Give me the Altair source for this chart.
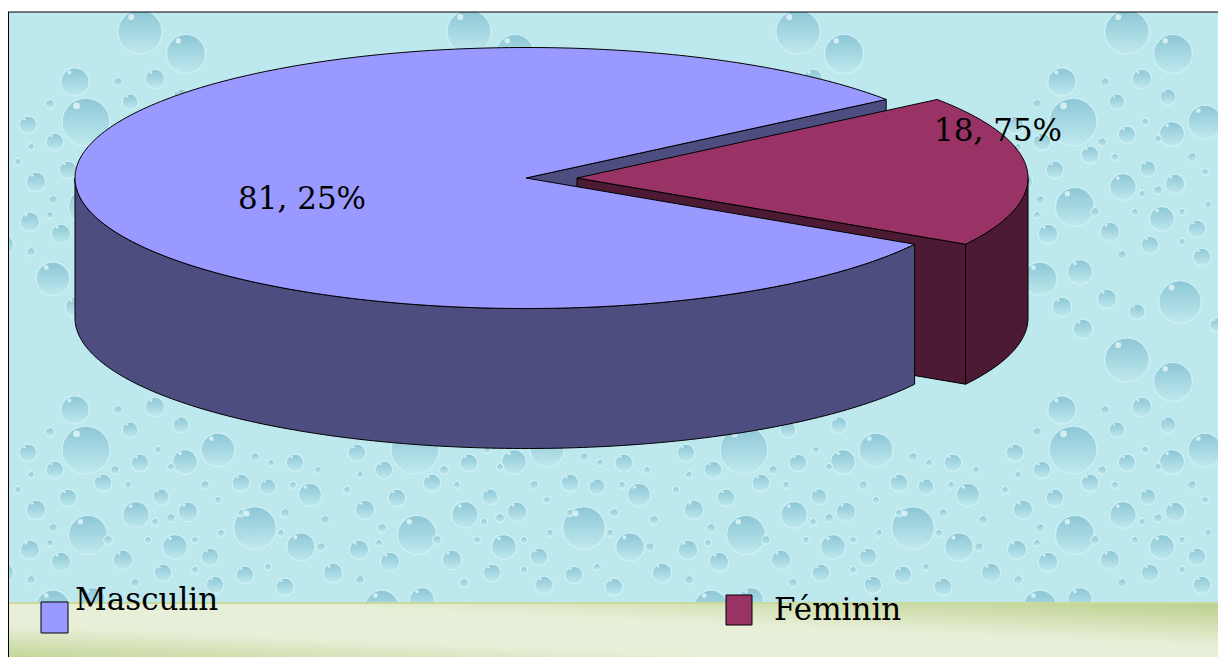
import math
import altair as alt
import pandas as pd

# --- values ---
categories = ["Masculin", "Féminin"]
shares = [81.25, 18.75]
slice_labels = ["81, 25%", "18, 75%"]
top_colors = ["#9999FF", "#993366"]
side_colors = ["#4D4D80", "#4D1A33"]

# droplets of the repeating background texture (x, y, radius)
drop_x = [86, 88, 255, 301, 218, 185, 136, 188, 161, 103, 68, 55, 28, 130, 140, 36, 30, 61, 123, 175, 163, 210,
          241, 268, 295, 310, 245, 285, 4, 181, 215, 75, 155, 140, 186, 53, 75, 120, 150, 193, 96, 230, 93]
drop_y = [450, 535, 528, 547, 450, 462, 515, 512, 497, 483, 498, 470, 453, 430, 463, 510, 550, 562, 560, 547,
          573, 557, 483, 487, 463, 495, 575, 587, 573, 425, 585, 410, 407, 360, 382, 607, 635, 627, 640, 630,
          657, 653, 600]
drop_r = [27, 22, 24, 16, 19, 14, 15, 11, 9, 10, 10, 10, 10, 9, 10, 11, 11, 11, 11, 14, 10, 10, 10, 9, 10, 13, 10,
          10, 11, 9, 10, 16, 11, 25, 22, 19, 11, 11, 9, 24, 11, 8, 14]
tiny_x = [18, 31, 50, 118, 158, 115, 128, 171, 205, 218, 241, 171, 155, 53, 50, 108, 148, 195, 221, 285, 293, 271,
          255, 318, 325, 281, 321, 195, 31, 268, 135]
tiny_y = [490, 475, 432, 410, 450, 470, 485, 467, 485, 500, 513, 518, 522, 528, 543, 540, 540, 540, 533, 513, 485,
          463, 457, 470, 520, 533, 547, 570, 580, 567, 583]
tiny_r = [4, 4, 5, 5, 4, 5, 4, 4, 5, 4, 4, 5, 4, 5, 4, 5, 4, 4, 4, 5, 4, 4, 5, 4, 5, 4, 5, 4, 5, 4, 5]
TILE_W, TILE_H = 329, 328

# --- pie geometry ---
CX, CY, RX, RY, DEPTH, EXPLODE = 526, 178, 451, 130.5, 140, 51
T1 = 37.0
T2 = T1 + 360 * shares[0] / 100


def pt(t, dx=0, dy=0):
    a = math.radians(t)
    return (CX + dx + RX * math.cos(a), CY + dy - RY * math.sin(a))


def arc(a, b, dx=0, dy=0):
    n = max(2, int(abs(b - a)))
    return [pt(a + (b - a) * i / n, dx, dy) for i in range(n + 1)]


SX = alt.Scale(domain=[8, 1218], nice=False, zero=False)
SY = alt.Scale(domain=[657, 8], nice=False, zero=False)
X = alt.X("x:Q", scale=SX, axis=None)
Y = alt.Y("y:Q", scale=SY, axis=None)


def poly(points, color):
    df = pd.DataFrame({"x": [p[0] for p in points], "y": [p[1] for p in points], "i": range(len(points))})
    return alt.Chart(df).mark_line(interpolate="linear-closed", fill=color, stroke="#000000",
                                   strokeWidth=1, clip=True).encode(x=X, y=Y, order="i:Q")


def box(x0, x1, y0, y1, **kw):
    df = pd.DataFrame({"x": [x0], "x2": [x1], "y": [y0], "y2": [y1]})
    return alt.Chart(df).mark_rect(clip=True, **kw).encode(x=X, x2="x2:Q", y=Y, y2="y2:Q")


def words(x, y, t, size=31, **kw):
    df = pd.DataFrame({"x": [x], "y": [y], "t": [t]})
    return alt.Chart(df).mark_text(font="DejaVu Serif", fontSize=size, align="left", baseline="alphabetic",
                                   color="#000000", **kw).encode(x=X, y=Y, text="t:N")


# --- background ---
rows = []
for i in range(-1, 5):
    for j in range(-2, 2):
        for x, y, r in zip(drop_x + tiny_x, drop_y + tiny_y, drop_r + tiny_r):
            rows.append({"x": x + i * TILE_W, "y": y + j * TILE_H, "r": r})
drops = pd.DataFrame(rows)
drops = drops[(drops.x > -30) & (drops.x < 1250) & (drops.y > -30) & (drops.y < 640)]
drops["size"] = math.pi * drops.r ** 2
drops["hx"] = drops.x - 0.35 * drops.r
drops["hy"] = drops.y - 0.6 * drops.r
drops["hsize"] = math.pi * (0.14 * drops.r) ** 2

back = box(8, 1218, 12, 603, color="#BCE8EE")
drop_fill = {"gradient": "linear", "x1": 0, "y1": 0, "x2": 0, "y2": 1,
             "stops": [{"offset": 0, "color": "#8DC6D6"}, {"offset": 1, "color": "#BFE9EE"}]}
drop_layer = alt.Chart(drops).mark_circle(fill=drop_fill, opacity=1, stroke="#CFF1F4", strokeWidth=1.2,
                                          clip=True).encode(x=X, y=Y, size=alt.Size("size:Q", scale=None))
shine = alt.Chart(drops).mark_circle(color="#DDF5F7", opacity=0.85, clip=True).encode(
    x=alt.X("hx:Q", scale=SX, axis=None), y=alt.Y("hy:Q", scale=SY, axis=None),
    size=alt.Size("hsize:Q", scale=None))
band_fill = {"gradient": "linear", "x1": 0, "y1": 1, "x2": 1, "y2": 0,
             "stops": [{"offset": 0, "color": "#C4D69A"}, {"offset": 0.3, "color": "#E8EFD8"},
                       {"offset": 0.6, "color": "#E8EFD8"}, {"offset": 1, "color": "#BCD08C"}]}
band = box(8, 1218, 603, 657, fill=band_fill)
band_line = box(8, 1218, 602, 604, color="#C9DA9C")
white = box(8, 1218, 8, 12, color="#FFFFFF")
frame_top = box(8, 1218, 11.5, 12.5, color="#000000")
frame_left = box(8, 9, 12, 657, color="#000000")

# --- pie ---
center = (CX, CY)
fem_center = (CX + EXPLODE, CY)
masc_back = poly([center, pt(T1), pt(T1, 0, DEPTH), (CX, CY + DEPTH)], side_colors[0])
fem_front = poly([fem_center, pt(T2, EXPLODE), pt(T2, EXPLODE, DEPTH), (CX + EXPLODE, CY + DEPTH)], side_colors[1])
fem_outer = poly(arc(T2, 360, EXPLODE) + arc(360, T2, EXPLODE, DEPTH), side_colors[1])
fem_top = poly([fem_center] + arc(T2, T1 + 360, EXPLODE), top_colors[1])
masc_outer = poly(arc(180, T2) + arc(T2, 180, 0, DEPTH), side_colors[0])
masc_top = poly([center] + arc(T1, T2), top_colors[0])

# --- texts and legend ---
label_a = words(238, 209, slice_labels[0])
label_b = words(934, 141, slice_labels[1])
sw_a = box(41, 68, 602, 633, color=top_colors[0], stroke="#000000", strokeWidth=1)
sw_b = box(726, 752, 595, 625, color=top_colors[1], stroke="#000000", strokeWidth=1)
leg_a = words(75, 610, categories[0])
leg_b = words(774, 620, categories[1])

chart = alt.layer(
    back, drop_layer, shine, band, band_line, white, frame_top, frame_left,
    masc_back, fem_front, fem_outer, fem_top, masc_outer, masc_top,
    label_a, label_b, sw_a, sw_b, leg_a, leg_b,
).properties(width=1210, height=649, padding=0, background="#FFFFFF",
             view=alt.ViewConfig(stroke=None))

chart.save("out.html", embed_options={"renderer": "svg", "actions": False})
